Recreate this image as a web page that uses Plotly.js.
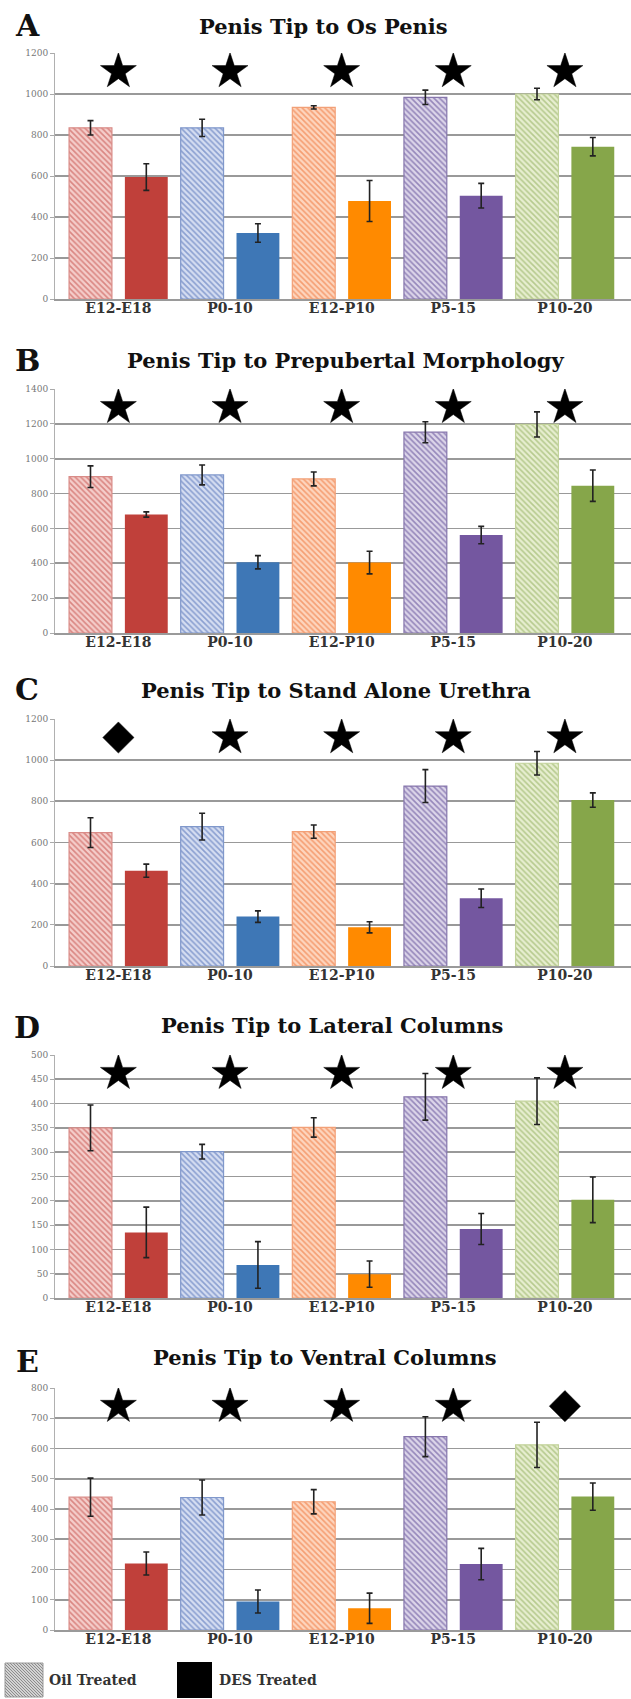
<!DOCTYPE html>
<html>
<head>
<meta charset="utf-8">
<script src="https://cdn.plot.ly/plotly-3.0.1.min.js"></script>
<style>html,body{margin:0;padding:0;background:#fff;}#chart{width:631px;height:1699px;}</style>
</head>
<body>
<div id="chart"></div>
<script>
// ---------- DATA ----------
const categories = ['E12-E18', 'P0-10', 'E12-P10', 'P5-15', 'P10-20'];

const titleA = 'Penis Tip to Os Penis';
const oilA = [835, 835, 935, 984, 1000];
const oilErrA = [35, 42, 8, 35, 28];
const desA = [595, 322, 478, 504, 743];
const desErrA = [65, 45, 100, 60, 45];
const sigA = ['star', 'star', 'star', 'star', 'star'];

const titleB = 'Penis Tip to Prepubertal Morphology';
const oilB = [897, 907, 884, 1152, 1197];
const oilErrB = [62, 57, 40, 60, 72];
const desB = [680, 406, 404, 562, 845];
const desErrB = [15, 38, 65, 50, 90];
const sigB = ['star', 'star', 'star', 'star', 'star'];

const titleC = 'Penis Tip to Stand Alone Urethra';
const oilC = [648, 677, 653, 874, 985];
const oilErrC = [72, 65, 32, 80, 57];
const desC = [463, 240, 188, 329, 806];
const desErrC = [32, 28, 27, 45, 35];
const sigC = ['diamond', 'star', 'star', 'star', 'star'];

const titleD = 'Penis Tip to Lateral Columns';
const oilD = [350, 301, 351, 414, 405];
const oilErrD = [47, 15, 20, 48, 48];
const desD = [135, 68, 49, 142, 202];
const desErrD = [52, 48, 27, 32, 47];
const sigD = ['star', 'star', 'star', 'star', 'star'];

const titleE = 'Penis Tip to Ventral Columns';
const oilE = [439, 438, 424, 639, 612];
const oilErrE = [63, 58, 40, 66, 75];
const desE = [220, 94, 72, 218, 441];
const desErrE = [38, 38, 50, 52, 45];
const sigE = ['star', 'star', 'star', 'star', 'diamond'];

const legendLabels = ['Oil Treated', 'DES Treated'];

// ---------- STYLE / LAYOUT ----------
const W = 631, H = 1699;
const desColors = ['#C0403A', '#3E77B6', '#FF8A00', '#7457A0', '#86A64A'];
const oilBg = ['#F4CDCA', '#D5DDF1', '#FDD5BE', '#DCD5E9', '#E7EED0'];
const oilFg = ['#DA8682', '#8A9FD0', '#F59E72', '#9587BA', '#B6CA8E'];
const oilLine = ['#D98C88', '#8098CB', '#F2A077', '#8676AC', '#C2D29A'];

const panels = [
  {letter: 'A', title: titleA, oil: oilA, oilErr: oilErrA, des: desA, desErr: desErrA, sig: sigA,
   ymax: 1200, dtick: 200, top: 53, bottom: 299, titleY: 27, titleX: 323, letterY: 26},
  {letter: 'B', title: titleB, oil: oilB, oilErr: oilErrB, des: desB, desErr: desErrB, sig: sigB,
   ymax: 1400, dtick: 200, top: 389, bottom: 633, titleY: 360, titleX: 345, letterY: 360},
  {letter: 'C', title: titleC, oil: oilC, oilErr: oilErrC, des: desC, desErr: desErrC, sig: sigC,
   ymax: 1200, dtick: 200, top: 719, bottom: 966, titleY: 690, titleX: 336, letterY: 689},
  {letter: 'D', title: titleD, oil: oilD, oilErr: oilErrD, des: desD, desErr: desErrD, sig: sigD,
   ymax: 500, dtick: 50, top: 1055, bottom: 1298, titleY: 1025, titleX: 332, letterY: 1027},
  {letter: 'E', title: titleE, oil: oilE, oilErr: oilErrE, des: desE, desErr: desErrE, sig: sigE,
   ymax: 800, dtick: 100, top: 1388, bottom: 1630, titleY: 1357, titleX: 325, letterY: 1361}
];

const px = x => x / W;
const py = y => 1 - y / H;
const serifB = 'DejaVu Serif';

const traces = [];
const layout = {
  width: W, height: H,
  margin: {l: 0, r: 0, t: 0, b: 0},
  paper_bgcolor: '#fff', plot_bgcolor: '#fff',
  showlegend: false,
  barmode: 'group', bargap: 0, bargroupgap: 0.232,
  annotations: [], shapes: []
};

panels.forEach((p, i) => {
  const n = i === 0 ? '' : String(i + 1);
  const xa = 'x' + n, ya = 'y' + n;
  // oil: solid pastel base
  traces.push({
    type: 'bar', name: legendLabels[0], x: categories, y: p.oil, xaxis: xa, yaxis: ya, offsetgroup: 'oil',
    marker: {color: oilBg, line: {width: 0}}
  });
  // oil: hatch overlay (same bars)
  traces.push({
    type: 'bar', name: legendLabels[0], x: categories, y: p.oil, xaxis: xa, yaxis: ya, offsetgroup: 'oil',
    marker: {color: oilFg, line: {color: oilLine, width: 1.2},
             pattern: {shape: '\\', size: 4, solidity: 0.4, fillmode: 'replace'}},
    error_y: {type: 'data', array: p.oilErr, color: '#222', thickness: 1.6, width: 3}
  });
  traces.push({
    type: 'bar', name: legendLabels[1], x: categories, y: p.des, xaxis: xa, yaxis: ya, offsetgroup: 'des',
    marker: {color: desColors, line: {width: 0}},
    error_y: {type: 'data', array: p.desErr, color: '#222', thickness: 1.6, width: 3}
  });
  traces.push({
    type: 'scatter', mode: 'markers', x: categories, y: categories.map(() => p.ymax * 0.925),
    xaxis: xa, yaxis: ya,
    marker: {symbol: p.sig, size: p.sig.map(s => s === 'star' ? 27 : 24), color: '#000', opacity: 1,
             line: {width: 0.5, color: '#000'}}
  });
  layout['xaxis' + n] = {
    domain: [55 / W, 1], anchor: ya, type: 'category', range: [-0.568, 4.592],
    showgrid: false, showline: true, linecolor: '#9a9a9a', linewidth: 2,
    ticks: '', ticklabelstandoff: -5,
    tickfont: {family: serifB, size: 14, color: '#333', weight: 'bold'}, fixedrange: true
  };
  layout['yaxis' + n] = {
    domain: [py(p.bottom), py(p.top)], anchor: xa, range: [0, p.ymax], dtick: p.dtick,
    showgrid: true, gridcolor: '#999999', gridwidth: 1.8, zeroline: false,
    showline: true, linecolor: '#b0b0b0', linewidth: 1,
    ticks: 'outside', ticklen: 4, tickcolor: '#aaa',
    tickfont: {family: serifB, size: 9, color: '#777'}, fixedrange: true
  };
  layout.annotations.push({
    xref: 'paper', yref: 'paper', x: px(p.titleX), y: py(p.titleY), xanchor: 'center', yanchor: 'middle',
    text: p.title, showarrow: false, font: {family: serifB, size: 21, color: '#111', weight: 'bold'}
  });
  layout.annotations.push({
    xref: 'paper', yref: 'paper', x: px(27), y: py(p.letterY), xanchor: 'center', yanchor: 'middle',
    text: p.letter, showarrow: false, font: {family: serifB, size: 30, color: '#111', weight: 'bold'}
  });
});

// legend (drawn with shapes + text)
const sw1 = {x0: 5, x1: 43, y0: 1663, y1: 1697};
const sw2 = {x0: 177, x1: 212, y0: 1662, y1: 1698};
layout.shapes.push({type: 'rect', xref: 'paper', yref: 'paper', x0: px(sw1.x0), x1: px(sw1.x1), y0: py(sw1.y1), y1: py(sw1.y0),
  fillcolor: '#d2d2d2', line: {color: '#9a9a9a', width: 1}});
let hatch = '';
for (let k = -34; k < 38; k += 3) {
  let sx = sw1.x0 + k, sy = sw1.y0, ex = sx + 34, ey = sw1.y1;
  if (sx < sw1.x0) { sy += (sw1.x0 - sx); sx = sw1.x0; }
  if (ex > sw1.x1) { ey -= (ex - sw1.x1); ex = sw1.x1; }
  if (ey > sy) hatch += `M${px(sx)},${py(sy)} L${px(ex)},${py(ey)} `;
}
layout.shapes.push({type: 'path', xref: 'paper', yref: 'paper', path: hatch, line: {color: '#8c8c8c', width: 1}});
layout.shapes.push({type: 'rect', xref: 'paper', yref: 'paper', x0: px(sw2.x0), x1: px(sw2.x1), y0: py(sw2.y1), y1: py(sw2.y0),
  fillcolor: '#000', line: {width: 0}});
layout.annotations.push({xref: 'paper', yref: 'paper', x: px(47), y: py(1680), xanchor: 'left', yanchor: 'middle',
  text: legendLabels[0], showarrow: false, font: {family: serifB, size: 14, color: '#333', weight: 'bold'}});
layout.annotations.push({xref: 'paper', yref: 'paper', x: px(217), y: py(1680), xanchor: 'left', yanchor: 'middle',
  text: legendLabels[1], showarrow: false, font: {family: serifB, size: 14, color: '#333', weight: 'bold'}});

Plotly.newPlot('chart', traces, layout, {staticPlot: true, displayModeBar: false});
</script>
</body>
</html>
